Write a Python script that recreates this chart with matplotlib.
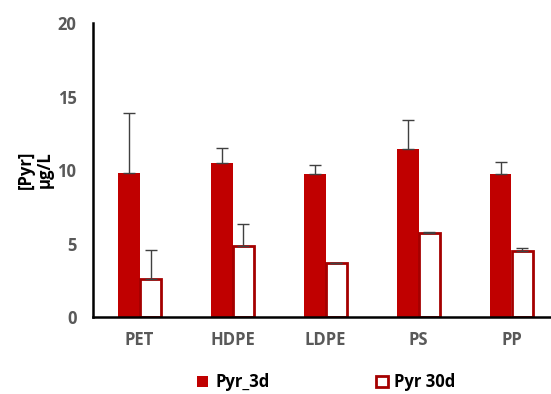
import numpy as np
import matplotlib
matplotlib.use("Agg")
from matplotlib import pyplot as plt

# data
polymers = ["PET", "HDPE", "LDPE", "PS", "PP"]
pyr_3d = [9.8, 10.5, 9.7, 11.4, 9.7]
pyr_3d_err = [4.05, 1.0, 0.62, 2.0, 0.85]
pyr_30d = [2.6, 4.85, 3.65, 5.72, 4.52]
pyr_30d_err = [1.95, 1.5, 0.02, 0.07, 0.15]

plt.rcParams['font.family'] = ['Open Sans', 'DejaVu Sans']

fig = plt.figure(figsize=(5.51, 3.94), dpi=100)
ax = fig.add_axes([0.169, 0.1954, 0.831, 0.746])

x = np.arange(len(polymers))
w = 0.235
red = "#C00000"

ax.bar(x - w/2, pyr_3d, w, color=red, label="Pyr_3d",
       yerr=[np.zeros(5), pyr_3d_err], error_kw=dict(ecolor="#404040", elinewidth=1, capsize=4, capthick=1))
ax.bar(x + w/2, pyr_30d, w*0.93, color="white", edgecolor="#A50000", linewidth=2, label="Pyr 30d",
       yerr=[np.zeros(5), pyr_30d_err], error_kw=dict(ecolor="#404040", elinewidth=1, capsize=4, capthick=1))

ax.set_xlim(-0.5, 4.425)
ax.set_ylim(0, 20)
ax.set_yticks([0, 5, 10, 15, 20])
ax.set_xticks(x)
ax.set_xticklabels(polymers)
ax.tick_params(length=0, labelsize=12, colors="#595959")
for lab in ax.get_xticklabels() + ax.get_yticklabels():
    lab.set_fontweight("bold")
ax.tick_params(axis="x", pad=10)
ax.tick_params(axis="y", pad=12)

for s in ["top", "right"]:
    ax.spines[s].set_visible(False)
ax.spines["left"].set_linewidth(1.8)
ax.spines["bottom"].set_linewidth(1.8)

ax.set_ylabel("[Pyr]\nμg/L", fontsize=12, fontweight="bold", labelpad=3, linespacing=1.0)

fig.legend(loc="center", bbox_to_anchor=(0.592, 0.03), ncol=2, frameon=False,
           prop=dict(size=12, weight="bold"), handlelength=0.7, handleheight=0.7,
           columnspacing=6.4, handletextpad=0.4)

fig.savefig("out.png", dpi=100)
